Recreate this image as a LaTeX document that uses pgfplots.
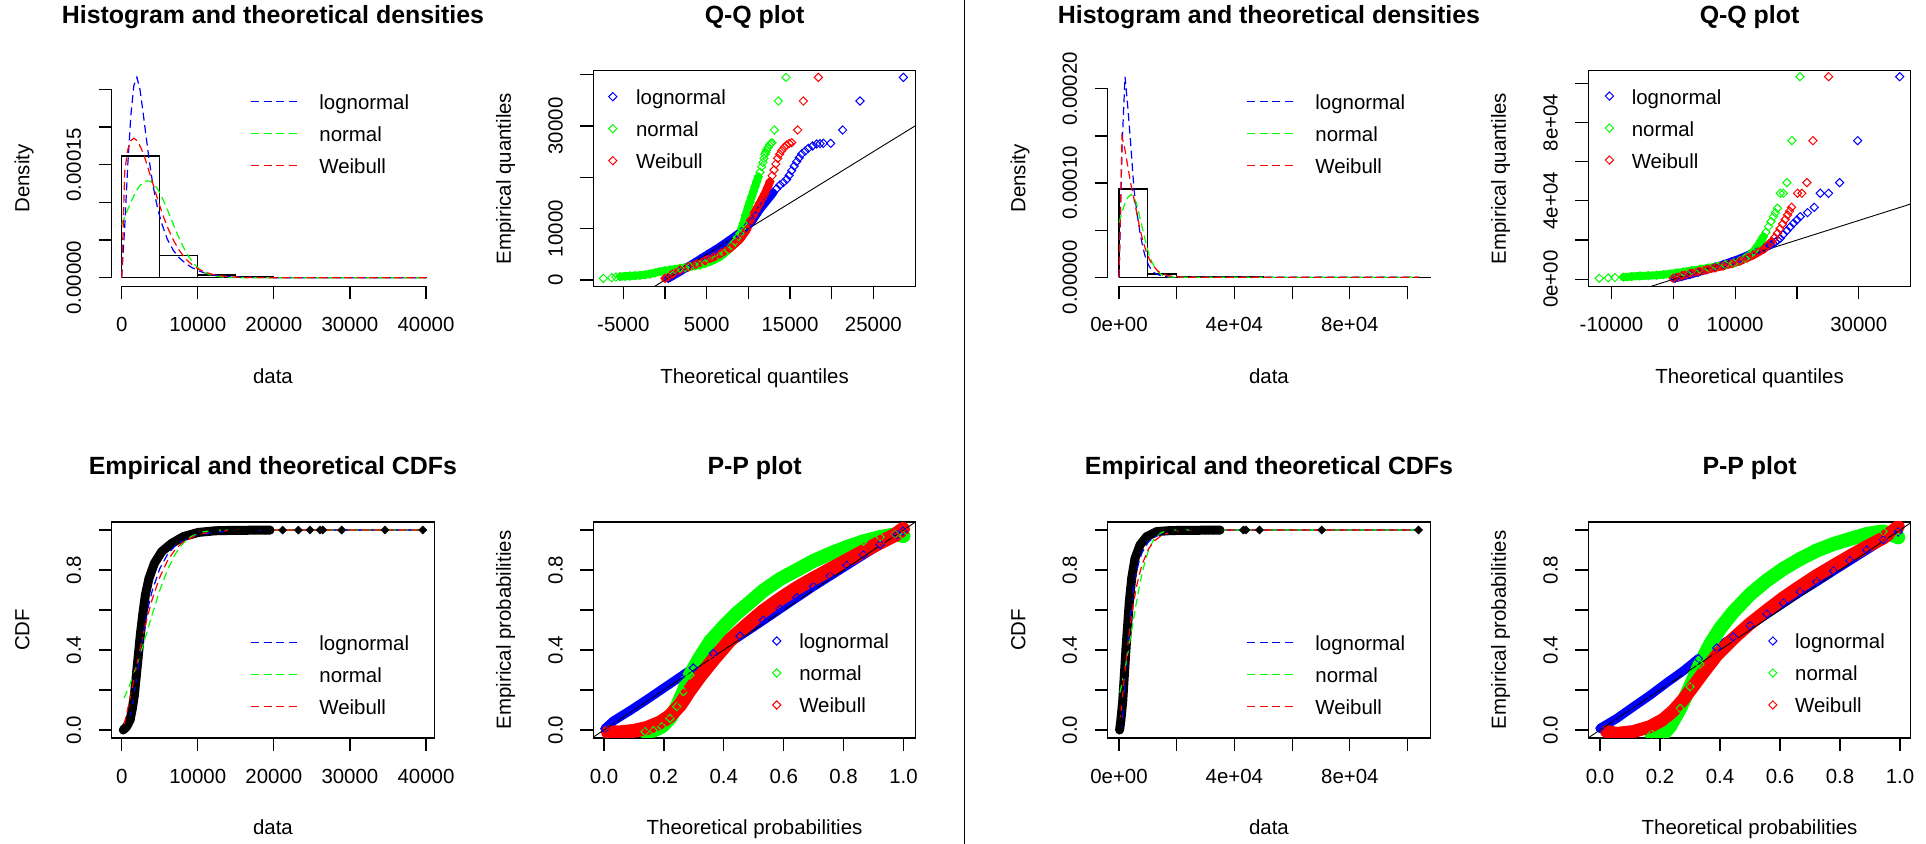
\documentclass[border=0pt]{standalone}
\usepackage{fontspec}
\setmainfont{Liberation Sans}
\usepackage{pgfplots}
\pgfplotsset{compat=1.18}
\definecolor{rblue}{RGB}{0,0,255}
\definecolor{rgreen}{RGB}{0,255,0}
\definecolor{rred}{RGB}{255,0,0}
\newcommand{\fs}{\fontsize{20.5}{24}\selectfont}
\newcommand{\fst}{\fontsize{25}{30}\selectfont\bfseries}
\pgfplotsset{
  rbase/.style={
    scale only axis, width=322.5bp, height=216bp, anchor=south west,
    axis line style={line width=1.2bp},
    tick align=outside, tick pos=left, major tick length=13bp,
    tick style={black, line width=1.2bp},
    scaled ticks=false,
    tick label style={font=\fs, inner sep=0pt, outer sep=0pt},
    xticklabel style={anchor=north},
    yticklabel style={rotate=90, anchor=south},
    xticklabel shift=18.2bp, yticklabel shift=17.6bp,
    label style={font=\fs, inner sep=0pt, outer sep=0pt},
    xlabel style={at={(axis description cs:0.5,-0.449)}, anchor=base},
    ylabel style={at={(axis description cs:-0.2555,0.5)}, anchor=base},
    title style={font=\fst, inner sep=0pt, outer sep=0pt, at={(axis description cs:0.5,1.1907)}, anchor=base},
  },
  rleg/.style n args={3}{legend style={at={(axis description cs:#1,#2)}, anchor=north west, draw=none, fill=none, inner sep=0pt, outer sep=0pt, font=\fs, row sep=12.5bp, column sep=#3, nodes={inner sep=0pt, outer sep=0pt, text height=15bp, text depth=4.5bp}, cells={anchor=base west}}},
  dens/.style={color=#1, line width=1.2bp, dash pattern=on 8bp off 4.5bp, legend image code/.code={\draw[##1] (0bp,8bp) -- (46bp,8bp);}},
  qmk/.style={color=#1, only marks, mark=square, mark size=2.9bp, mark options={rotate=45, line width=1bp, solid}, legend image code/.code={\draw[##1] plot coordinates {(4bp,8bp)};}},
  band/.style 2 args={color=#1, line width=#2, line join=round, line cap=round, forget plot},
  ecdfmk/.style={black, only marks, mark=square*, mark size=2.9bp, mark options={rotate=45}, forget plot},
}
\begin{document}
\begin{tikzpicture}[x=1bp,y=1bp]
\useasboundingbox (0,0) rectangle (1926,844);
\draw[line width=1.5bp] (964.5,0) -- (964.5,844);

%% ---------------- Panel A: histogram (left) ----------------
\begin{axis}[rbase, at={(111.7bp,557.5bp)}, clip=false, axis line style={draw=none},
  xmin=-1314, xmax=41078, ymin=-1.168e-5, ymax=2.7495e-4,
  xtick={0,10000,20000,30000,40000}, xticklabels={0,10000,20000,30000,40000},
  ytick={0,5e-5,1e-4,1.5e-4,2e-4,2.5e-4}, yticklabels={0.00000,,,0.00015,,},
  title={Histogram and theoretical densities}, xlabel={data}, ylabel={Density},
  rleg={0.431}{0.887}{21.5bp}]
\addplot[black, line width=1.2bp, forget plot] coordinates {(0,-1.168e-5) (40000,-1.168e-5)};
\addplot[black, line width=1.2bp, forget plot] coordinates {(-1314,0) (-1314,2.5e-4)};
\addplot[black, line width=1.2bp, forget plot] coordinates {(0,0) (0,1.615e-4) (5000,1.615e-4) (5000,0) (5000,2.92e-5) (10000,2.92e-5) (10000,0) (10000,3.6e-6) (15000,3.6e-6) (15000,0) (15000,1.3e-6) (20000,1.3e-6) (20000,0) (20000,4e-7) (25000,4e-7) (25000,0) (25000,3e-7) (30000,3e-7) (30000,0) (30000,1e-7) (40000,1e-7) (40000,0) (0,0)};
\addplot[dens=rblue] coordinates {(0,0) (400,6.8e-5) (800,1.5e-4) (1200,2.15e-4) (1600,2.55e-4) (2000,2.66e-4) (2400,2.5e-4) (2800,2.2e-4) (3200,1.88e-4) (3600,1.57e-4) (4000,1.3e-4) (4400,1.07e-4) (4800,8.9e-5) (5200,7.4e-5) (5600,6.2e-5) (6000,5.1e-5) (6800,3.6e-5) (7600,2.6e-5) (8400,1.9e-5) (9200,1.35e-5) (10000,9.5e-6) (11000,6e-6) (12000,3.8e-6) (13000,2.4e-6) (14000,1.5e-6) (16000,6e-7) (18000,2e-7) (20000,0) (40000,0)};
\addlegendentry{lognormal}
\addplot[dens=rgreen] coordinates {(0,7.05e-5) (400,8.06e-5) (800,9.05e-5) (1200,1.0e-4) (1600,1.087e-4) (2000,1.162e-4) (2400,1.222e-4) (2800,1.263e-4) (3200,1.284e-4) (3600,1.284e-4) (4000,1.263e-4) (4400,1.222e-4) (4800,1.162e-4) (5200,1.087e-4) (5600,1.0e-4) (6000,9.05e-5) (6400,8.06e-5) (6800,7.05e-5) (7200,6.07e-5) (7600,5.14e-5) (8000,4.28e-5) (8400,3.5e-5) (8800,2.82e-5) (9200,2.24e-5) (9600,1.74e-5) (10000,1.33e-5) (10400,1.0e-5) (11000,6.4e-6) (11600,3.9e-6) (12400,1.9e-6) (13200,8.7e-7) (14000,3.7e-7) (15000,1.2e-7) (16000,0) (40000,0)};
\addlegendentry{normal}
\addplot[dens=rred] coordinates {(0,0) (400,1.409e-4) (800,1.7e-4) (1200,1.82e-4) (1600,1.85e-4) (2000,1.82e-4) (2400,1.75e-4) (2800,1.66e-4) (3200,1.54e-4) (3600,1.41e-4) (4000,1.28e-4) (4400,1.149e-4) (4800,1.017e-4) (5200,8.94e-5) (5600,7.8e-5) (6000,6.75e-5) (6800,4.97e-5) (7600,3.57e-5) (8400,2.52e-5) (9200,1.75e-5) (10000,1.19e-5) (11000,7.16e-6) (12000,4.22e-6) (13000,2.44e-6) (14000,1.37e-6) (16000,4.1e-7) (18000,1e-7) (20000,0) (40000,0)};
\addlegendentry{Weibull}
\end{axis}

%% ---------------- Panel B: Q-Q (left) ----------------
\begin{axis}[rbase, at={(593.3bp,557.5bp)},
  xmin=-8604, xmax=30096, ymin=-1266, ymax=40814,
  xtick={-5000,0,5000,10000,15000,20000,25000}, xticklabels={-5000,,5000,,15000,,25000},
  ytick={0,10000,20000,30000,40000}, yticklabels={0,10000,,30000,},
  title={Q-Q plot}, xlabel={Theoretical quantiles}, ylabel={Empirical quantiles},
  rleg={0.0478}{0.911}{19.2bp}]
\addplot[band={rblue}{8bp}] coordinates {(400,300) (1800,1623) (3400,3247) (5000,4870) (6600,6493) (8200,8311) (9400,9740) (10400,11363) (11400,13765) (12200,15388) (13000,17012)};
\addplot[qmk=rblue] coordinates {(400,300) (1000,900) (1800,1623) (2600,2450) (3400,3247) (4200,4050) (5000,4870) (5800,5650) (6600,6493) (7400,7400) (8200,8311) (8800,9000) (9400,9740) (9900,10500) (10400,11363) (10900,12500) (11400,13765) (11800,14600) (12200,15388) (12600,16200) (13000,17012) (13400,17800) (13800,18505) (14200,19000) (14600,19609) (14900,20400) (15200,21297) (15500,22200) (15800,23050) (16100,23800) (16400,24544) (16800,25100) (17200,25647) (17700,26100) (18200,26491) (18600,26560) (19000,26621) (19880,26621) (21320,29219) (23400,34868) (28600,39477)};
\addlegendentry{lognormal}
\addplot[band={rgreen}{8bp}] coordinates {(-5400,649) (-4200,779) (-3000,909) (-1800,1169) (-600,1623) (600,1948) (1800,2273) (3000,2597) (4200,2922) (5400,3571) (6600,4545) (7600,5844) (8400,7467) (9000,9090) (9400,11038) (9680,12661) (10000,14285) (10400,16233) (10800,18180) (11200,20128)};
\addplot[qmk=rgreen] coordinates {(-7400,300) (-6400,450) (-5900,580) (-5400,649) (-4800,700) (-4200,779) (-3600,850) (-3000,909) (-2400,1000) (-1800,1169) (-1200,1400) (-600,1623) (0,1800) (600,1948) (1200,2100) (1800,2273) (2400,2430) (3000,2597) (3600,2750) (4200,2922) (4800,3200) (5400,3571) (6000,4000) (6600,4545) (7100,5100) (7600,5844) (8000,6600) (8400,7467) (8700,8300) (9000,9090) (9200,10000) (9400,11038) (9680,12661) (10000,14285) (10200,15200) (10400,16233) (10600,17200) (10800,18180) (11000,19200) (11200,20128) (11400,21000) (11600,22076) (11750,22900) (11880,23700) (12000,24500) (12100,24900) (12200,25323) (12360,25800) (12520,26297) (12680,26600) (12840,26751) (13120,29219) (13600,34868) (14520,39477)};
\addlegendentry{normal}
\addplot[band={rred}{8bp}] coordinates {(0,300) (1800,1948) (3800,3117) (5800,4415) (7800,6168) (9000,7921) (9800,9740) (10280,11687) (10800,13311) (11400,15064) (12000,16882) (12600,19154)};
\addplot[qmk=rred] coordinates {(0,300) (900,1200) (1800,1948) (2800,2550) (3800,3117) (4800,3750) (5800,4415) (6800,5250) (7800,6168) (8400,7000) (9000,7921) (9400,8800) (9800,9740) (10280,11687) (10800,13311) (11100,14200) (11400,15064) (11700,16000) (12000,16882) (12300,18000) (12600,19154) (12850,20300) (13080,21427) (13300,22600) (13520,23700) (13760,24500) (14000,25193) (14300,25800) (14600,26297) (14900,26600) (15200,26751) (15920,29219) (16600,34868) (18400,39477)};
\addlegendentry{Weibull}
\addplot[black, line width=0.9bp, forget plot] coordinates {(-10000,-10000) (45000,45000)};
\end{axis}

%% ---------------- Panel C: ECDF (left) ----------------
\begin{axis}[rbase, at={(111.7bp,106bp)},
  xmin=-1314, xmax=41078, ymin=-0.04, ymax=1.04,
  xtick={0,10000,20000,30000,40000}, xticklabels={0,10000,20000,30000,40000},
  ytick={0,0.2,0.4,0.6,0.8,1.0}, yticklabels={0.0,,0.4,,0.8,},
  title={Empirical and theoretical CDFs}, xlabel={data}, ylabel={CDF},
  rleg={0.431}{0.4755}{21.5bp}]
\addplot[band={black}{9bp}] coordinates {(200,0.0) (650,0.017) (1100,0.05) (1400,0.108) (1670,0.175) (1930,0.275) (2190,0.375) (2450,0.475) (2760,0.575) (3110,0.675) (3590,0.758) (4290,0.833) (5260,0.892) (6570,0.933) (8110,0.967) (10080,0.988) (12270,0.996) (14460,0.998) (17500,0.999) (19500,0.9993)};
\addplot[ecdfmk] coordinates {(200,0.0) (650,0.017) (1100,0.05) (1400,0.108) (1670,0.175) (1930,0.275) (2190,0.375) (2450,0.475) (2760,0.575) (3110,0.675) (3590,0.758) (4290,0.833) (5260,0.892) (6570,0.933) (8110,0.967) (10080,0.988) (12270,0.996) (14460,0.998) (15500,0.9983) (16500,0.9986) (17500,0.999) (18900,0.9991) (19500,0.9993) (21160,0.9995) (23220,0.9996) (24750,0.9997) (26070,0.9998) (26420,0.9998) (28910,0.9999) (34610,0.9999) (39560,1.0)};
\addplot[black, line width=1.2bp, forget plot] coordinates {(19500,0.9993) (39560,1.0)};
\addplot[dens=rblue] coordinates {(300,0.0001) (600,0.0058) (1000,0.0437) (1500,0.144) (2000,0.274) (2500,0.404) (3000,0.519) (3500,0.616) (4000,0.6945) (5000,0.8067) (6000,0.8764) (7000,0.9198) (8000,0.9471) (10000,0.9758) (12000,0.9883) (15000,0.9956) (20000,0.999) (39560,1.0)};
\addlegendentry{lognormal}
\addplot[dens=rgreen] coordinates {(300,0.1587) (1000,0.2194) (2000,0.3258) (3000,0.4487) (4000,0.5767) (5000,0.6971) (6000,0.7992) (7000,0.8772) (8000,0.9311) (9000,0.9646) (10000,0.9834) (11000,0.9929) (12000,0.9972) (14000,0.9997) (39560,1.0)};
\addlegendentry{normal}
\addplot[dens=rred] coordinates {(300,0.0277) (600,0.0714) (1000,0.1406) (1500,0.2345) (2000,0.3296) (2500,0.421) (3000,0.506) (3500,0.5832) (4000,0.652) (5000,0.7636) (6000,0.8445) (7000,0.9007) (8000,0.9382) (10000,0.9777) (12000,0.9926) (15000,0.9988) (20000,1.0) (39560,1.0)};
\addlegendentry{Weibull}
\end{axis}

%% ---------------- Panel D: P-P (left) ----------------
\begin{axis}[rbase, at={(593.3bp,106bp)},
  xmin=-0.0357, xmax=1.0411, ymin=-0.04, ymax=1.04,
  xtick={0,0.2,0.4,0.6,0.8,1.0}, xticklabels={0.0,0.2,0.4,0.6,0.8,1.0},
  ytick={0,0.2,0.4,0.6,0.8,1.0}, yticklabels={0.0,,0.4,,0.8,},
  title={P-P plot}, xlabel={Theoretical probabilities}, ylabel={Empirical probabilities},
  rleg={0.556}{0.4815}{18.5bp}]
\addplot[band={rblue}{9bp}] coordinates {(0.003,0.007) (0.031,0.045) (0.087,0.097) (0.143,0.152) (0.198,0.208) (0.254,0.265) (0.298,0.31) (0.365,0.383) (0.454,0.47) (0.532,0.548) (0.588,0.605) (0.644,0.662) (0.699,0.717) (0.755,0.77) (0.811,0.823) (0.866,0.875) (0.922,0.927) (0.978,0.975) (0.998,0.995)};
\addplot[qmk=rblue] coordinates {(0.003,0.007) (0.031,0.045) (0.087,0.097) (0.143,0.152) (0.198,0.208) (0.254,0.265) (0.298,0.31) (0.365,0.383) (0.454,0.47) (0.532,0.548) (0.588,0.605) (0.644,0.662) (0.699,0.717) (0.755,0.77) (0.811,0.823) (0.866,0.875) (0.922,0.927) (0.978,0.975) (0.998,0.995)};
\addlegendentry{lognormal}
\addplot[band={rgreen}{14bp}] coordinates {(0.137,-0.008) (0.165,-0.003) (0.193,0.017) (0.22,0.058) (0.243,0.117) (0.265,0.192) (0.287,0.275) (0.315,0.35) (0.354,0.442) (0.399,0.517) (0.443,0.583) (0.488,0.64) (0.532,0.697) (0.588,0.755) (0.644,0.8) (0.699,0.845) (0.755,0.882) (0.811,0.915) (0.866,0.943) (0.922,0.965) (0.972,0.978) (1.0,0.97)};
\addplot[qmk=rgreen] coordinates {(0.137,-0.008) (0.165,-0.003) (0.193,0.017) (0.22,0.058) (0.243,0.117) (0.265,0.192) (0.287,0.275) (0.315,0.35) (0.354,0.442) (0.399,0.517) (0.443,0.583) (0.488,0.64) (0.532,0.697) (0.588,0.755) (0.644,0.8) (0.699,0.845) (0.755,0.882) (0.811,0.915) (0.866,0.943) (0.922,0.965) (0.972,0.978) (1.0,0.97)};
\addlegendentry{normal}
\addplot[band={rred}{14bp}] coordinates {(0.014,-0.012) (0.053,-0.012) (0.098,-0.005) (0.143,0.01) (0.187,0.037) (0.22,0.07) (0.254,0.125) (0.287,0.2) (0.321,0.27) (0.365,0.352) (0.421,0.45) (0.477,0.525) (0.532,0.595) (0.588,0.655) (0.644,0.71) (0.699,0.757) (0.755,0.803) (0.811,0.848) (0.866,0.893) (0.922,0.938) (0.972,0.975) (0.998,1.005)};
\addplot[qmk=rred] coordinates {(0.014,-0.012) (0.053,-0.012) (0.098,-0.005) (0.143,0.01) (0.187,0.037) (0.22,0.07) (0.254,0.125) (0.287,0.2) (0.321,0.27) (0.365,0.352) (0.421,0.45) (0.477,0.525) (0.532,0.595) (0.588,0.655) (0.644,0.71) (0.699,0.757) (0.755,0.803) (0.811,0.848) (0.866,0.893) (0.922,0.938) (0.972,0.975) (0.998,1.005)};
\addlegendentry{Weibull}
\addplot[black, line width=0.9bp, forget plot] coordinates {(-0.1,-0.1) (1.1,1.1)};
\end{axis}

%% ---------------- Panel E: histogram (right) ----------------
\begin{axis}[rbase, at={(1107.7bp,557.5bp)}, clip=false, axis line style={draw=none},
  xmin=-3917, xmax=107868, ymin=-9.77e-6, ymax=2.195e-4,
  xtick={0,20000,40000,60000,80000,100000}, xticklabels={0e+00,,4e+04,,8e+04,},
  ytick={0,5e-5,1e-4,1.5e-4,2e-4}, yticklabels={0.00000,,0.00010,,0.00020},
  title={Histogram and theoretical densities}, xlabel={data}, ylabel={Density},
  rleg={0.431}{0.887}{21.5bp}]
\addplot[black, line width=1.2bp, forget plot] coordinates {(0,-9.77e-6) (100000,-9.77e-6)};
\addplot[black, line width=1.2bp, forget plot] coordinates {(-3917,0) (-3917,2e-4)};
\addplot[black, line width=1.2bp, forget plot] coordinates {(0,0) (0,9.37e-5) (10000,9.37e-5) (10000,0) (10000,3.5e-6) (20000,3.5e-6) (20000,0) (20000,1.2e-6) (30000,1.2e-6) (30000,0) (30000,5e-7) (40000,5e-7) (40000,0) (40000,3e-7) (50000,3e-7) (50000,0) (50000,1e-7) (107800,1e-7) (107800,0) (0,0)};
\addplot[dens=rblue] coordinates {(0,0) (1040,1.38e-4) (2080,2.13e-4) (3120,1.78e-4) (4160,1.37e-4) (5200,9.3e-5) (6240,6.8e-5) (7280,4.7e-5) (8320,3.1e-5) (9360,1.9e-5) (10400,1.2e-5) (11440,7e-6) (12480,4.2e-6) (14560,1.6e-6) (16640,6e-7) (19760,1e-7) (22880,0) (104000,0)};
\addlegendentry{lognormal}
\addplot[dens=rgreen] coordinates {(0,5.8e-5) (1040,6.9e-5) (2080,7.9e-5) (3120,8.5e-5) (4160,8.8e-5) (5200,8.5e-5) (6240,7.6e-5) (7280,6.3e-5) (8320,4.9e-5) (9360,3.6e-5) (10400,2.4e-5) (11440,1.6e-5) (12480,1.0e-5) (13520,6e-6) (14560,3e-6) (15600,1.5e-6) (17680,3e-7) (20800,0) (104000,0)};
\addlegendentry{normal}
\addplot[dens=rred] coordinates {(0,0) (1040,1.49e-4) (2080,1.35e-4) (3120,1.16e-4) (4160,9.8e-5) (5200,8.3e-5) (6240,6.7e-5) (7280,5.1e-5) (8320,3.8e-5) (9360,2.8e-5) (10400,2.0e-5) (11440,1.4e-5) (12480,1.0e-5) (13520,6.6e-6) (14560,4.4e-6) (16640,1.9e-6) (18720,8e-7) (20800,3e-7) (24960,0) (104000,0)};
\addlegendentry{Weibull}
\end{axis}

%% ---------------- Panel F: Q-Q (right) ----------------
\begin{axis}[rbase, at={(1588.3bp,557.5bp)},
  xmin=-13754, xmax=38430, ymin=-3673, ymax=106530,
  xtick={-10000,0,10000,20000,30000}, xticklabels={-10000,0,10000,,30000},
  ytick={0,20000,40000,60000,80000,100000}, yticklabels={0e+00,,4e+04,,8e+04,},
  title={Q-Q plot}, xlabel={Theoretical quantiles}, ylabel={Empirical quantiles},
  rleg={0.0527}{0.914}{18.3bp}]
\addplot[band={rblue}{8bp}] coordinates {(270,500) (2701,2400) (5402,4900) (8103,7600) (10804,10600) (13505,14300) (15666,17500)};
\addplot[qmk=rblue] coordinates {(270,500) (1350,1400) (2701,2400) (4050,3600) (5402,4900) (6750,6200) (8103,7600) (9450,9000) (10804,10600) (12150,12300) (13505,14300) (14600,15900) (15666,17500) (16100,18200) (16500,19000) (16900,19900) (17287,20919) (17800,22900) (18367,24830) (18900,26700) (19447,28572) (20000,30300) (20527,31973) (21716,34014) (22796,36735) (23768,43878) (25119,43878) (26902,49320) (29820,70710) (36630,103370)};
\addlegendentry{lognormal}
\addplot[band={rgreen}{8bp}] coordinates {(-8103,1100) (-5402,1701) (-2701,2041) (-540,2721) (1621,3742) (4322,5102) (7023,6463) (9724,8163) (11614,10714) (12965,14116) (13775,17517) (14585,21769)};
\addplot[qmk=rgreen] coordinates {(-11993,500) (-10534,700) (-9454,900) (-8103,1100) (-6750,1450) (-5402,1701) (-4050,1850) (-2701,2041) (-1600,2350) (-540,2721) (540,3200) (1621,3742) (3000,4400) (4322,5102) (5700,5800) (7023,6463) (8400,7300) (9724,8163) (10700,9300) (11614,10714) (12300,12300) (12965,14116) (13400,15800) (13775,17517) (14200,19600) (14585,21769) (15000,24000) (15396,26871) (15800,29500) (16206,31973) (16500,34000) (16854,36225) (17300,43878) (17800,43878) (18365,49320) (19190,70710) (20490,103370)};
\addlegendentry{normal}
\addplot[band={rred}{8bp}] coordinates {(0,500) (2701,3061) (5402,4900) (8103,6800) (10804,9300) (12965,12415) (14585,15306) (15936,19218)};
\addplot[qmk=rred] coordinates {(0,500) (1350,1800) (2701,3061) (4050,4000) (5402,4900) (6750,5800) (8103,6800) (9450,8000) (10804,9300) (12000,10900) (12965,12415) (13800,13900) (14585,15306) (15300,17200) (15936,19218) (16400,21300) (16854,23470) (17250,25800) (17665,28232) (18100,30500) (18475,32823) (18800,34800) (19123,36735) (20095,43878) (20797,43878) (21608,49320) (22590,70710) (25120,103370)};
\addlegendentry{Weibull}
\addplot[black, line width=0.9bp, forget plot] coordinates {(-15000,-15000) (45000,45000)};
\end{axis}

%% ---------------- Panel G: ECDF (right) ----------------
\begin{axis}[rbase, at={(1107.7bp,106bp)},
  xmin=-3917, xmax=107868, ymin=-0.04, ymax=1.04,
  xtick={0,20000,40000,60000,80000,100000}, xticklabels={0e+00,,4e+04,,8e+04,},
  ytick={0,0.2,0.4,0.6,0.8,1.0}, yticklabels={0.0,,0.4,,0.8,},
  title={Empirical and theoretical CDFs}, xlabel={data}, ylabel={CDF},
  rleg={0.431}{0.4755}{21.5bp}]
\addplot[band={black}{9bp}] coordinates {(200,0.0) (580,0.042) (1270,0.142) (1850,0.275) (2425,0.408) (3000,0.525) (3580,0.642) (4390,0.758) (5540,0.858) (7280,0.925) (9590,0.967) (13050,0.992) (17670,0.997) (22000,0.998) (26360,0.9985) (35030,0.9996)};
\addplot[ecdfmk] coordinates {(200,0.0) (580,0.042) (1270,0.142) (1850,0.275) (2425,0.408) (3000,0.525) (3580,0.642) (4390,0.758) (5540,0.858) (7280,0.925) (9590,0.967) (13050,0.992) (17670,0.997) (22000,0.998) (26360,0.9985) (27500,0.999) (29820,0.999) (31000,0.9993) (32700,0.9995) (35030,0.9996) (43120,0.9997) (44000,0.9998) (48670,0.9998) (70290,0.9999) (103810,1.0)};
\addplot[black, line width=1.2bp, forget plot] coordinates {(35030,0.9996) (103810,1.0)};
\addplot[dens=rblue] coordinates {(300,0.0003) (500,0.003) (1000,0.039) (1500,0.119) (2000,0.221) (2500,0.326) (3000,0.425) (3500,0.512) (4000,0.587) (5000,0.705) (6000,0.788) (7000,0.846) (8000,0.887) (10000,0.937) (12000,0.963) (15000,0.9825) (20000,0.9941) (30000,0.999) (103810,1.0)};
\addlegendentry{lognormal}
\addplot[dens=rgreen] coordinates {(300,0.1864) (1000,0.23) (2000,0.301) (3000,0.381) (4000,0.465) (5000,0.552) (6000,0.636) (7000,0.714) (8000,0.783) (9000,0.841) (10000,0.888) (11000,0.924) (12000,0.951) (14000,0.9816) (16000,0.9942) (18000,0.9984) (20000,0.9997) (103810,1.0)};
\addlegendentry{normal}
\addplot[dens=rred] coordinates {(300,0.0336) (500,0.061) (1000,0.135) (1500,0.21) (2000,0.283) (2500,0.353) (3000,0.418) (3500,0.479) (4000,0.535) (5000,0.632) (6000,0.712) (7000,0.776) (8000,0.8276) (10000,0.8994) (12000,0.9427) (15000,0.9762) (20000,0.9949) (30000,0.9998) (103810,1.0)};
\addlegendentry{Weibull}
\end{axis}

%% ---------------- Panel H: P-P (right) ----------------
\begin{axis}[rbase, at={(1588.3bp,106bp)},
  xmin=-0.039, xmax=1.036, ymin=-0.04, ymax=1.04,
  xtick={0,0.2,0.4,0.6,0.8,1.0}, xticklabels={0.0,0.2,0.4,0.6,0.8,1.0},
  ytick={0,0.2,0.4,0.6,0.8,1.0}, yticklabels={0.0,,0.4,,0.8,},
  title={P-P plot}, xlabel={Theoretical probabilities}, ylabel={Empirical probabilities},
  rleg={0.5594}{0.4815}{18.2bp}]
\addplot[band={rblue}{9bp}] coordinates {(0.0,0.008) (0.056,0.058) (0.111,0.116) (0.167,0.174) (0.222,0.236) (0.278,0.296) (0.328,0.357) (0.389,0.41) (0.444,0.465) (0.5,0.523) (0.556,0.58) (0.611,0.635) (0.667,0.69) (0.722,0.741) (0.778,0.795) (0.833,0.847) (0.889,0.9) (0.944,0.952) (0.994,0.99)};
\addplot[qmk=rblue] coordinates {(0.0,0.008) (0.056,0.058) (0.111,0.116) (0.167,0.174) (0.222,0.236) (0.278,0.296) (0.328,0.357) (0.389,0.41) (0.444,0.465) (0.5,0.523) (0.556,0.58) (0.611,0.635) (0.667,0.69) (0.722,0.741) (0.778,0.795) (0.833,0.847) (0.889,0.9) (0.944,0.952) (0.994,0.99)};
\addlegendentry{lognormal}
\addplot[band={rgreen}{14bp}] coordinates {(0.172,-0.02) (0.211,-0.02) (0.233,0.017) (0.267,0.108) (0.3,0.216) (0.333,0.329) (0.367,0.429) (0.4,0.507) (0.444,0.59) (0.5,0.678) (0.556,0.748) (0.611,0.806) (0.667,0.855) (0.722,0.897) (0.778,0.93) (0.833,0.955) (0.889,0.98) (0.944,0.993) (0.994,0.963)};
\addplot[qmk=rgreen] coordinates {(0.172,-0.02) (0.211,-0.02) (0.233,0.017) (0.267,0.108) (0.3,0.216) (0.333,0.329) (0.367,0.429) (0.4,0.507) (0.444,0.59) (0.5,0.678) (0.556,0.748) (0.611,0.806) (0.667,0.855) (0.722,0.897) (0.778,0.93) (0.833,0.955) (0.889,0.98) (0.944,0.993) (0.994,0.963)};
\addlegendentry{normal}
\addplot[band={rred}{13bp}] coordinates {(0.022,-0.008) (0.056,-0.017) (0.111,-0.008) (0.167,0.017) (0.211,0.053) (0.244,0.096) (0.278,0.153) (0.311,0.219) (0.344,0.286) (0.389,0.374) (0.444,0.457) (0.5,0.532) (0.556,0.598) (0.611,0.661) (0.667,0.718) (0.722,0.772) (0.778,0.822) (0.833,0.87) (0.889,0.917) (0.944,0.96) (0.994,1.017)};
\addplot[qmk=rred] coordinates {(0.022,-0.008) (0.056,-0.017) (0.111,-0.008) (0.167,0.017) (0.211,0.053) (0.244,0.096) (0.278,0.153) (0.311,0.219) (0.344,0.286) (0.389,0.374) (0.444,0.457) (0.5,0.532) (0.556,0.598) (0.611,0.661) (0.667,0.718) (0.722,0.772) (0.778,0.822) (0.833,0.87) (0.889,0.917) (0.944,0.96) (0.994,1.017)};
\addlegendentry{Weibull}
\addplot[black, line width=0.9bp, forget plot] coordinates {(-0.1,-0.1) (1.1,1.1)};
\end{axis}
\end{tikzpicture}
\end{document}
